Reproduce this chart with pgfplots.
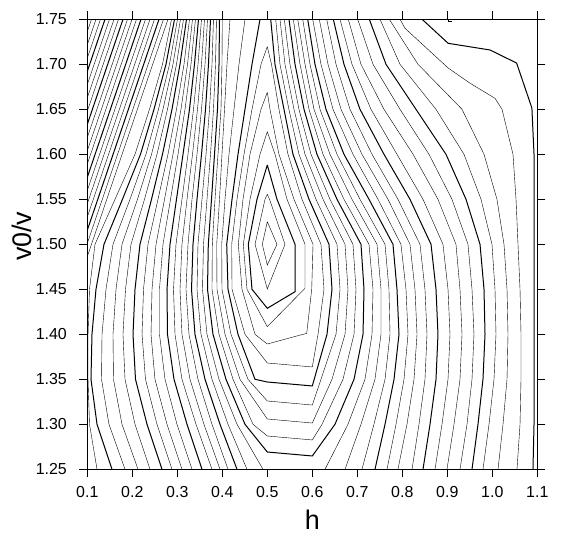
\documentclass[border=0pt]{standalone}
\usepackage{pgfplots}
\pgfplotsset{compat=1.18}
\usepackage{fontspec}
\setmainfont{Liberation Sans}
\begin{document}
\begin{tikzpicture}
\begin{axis}[
  at={(0,0)}, anchor=south west,
  scale only axis, width=450bp, height=450bp,
  xmin=0.1, xmax=1.1, ymin=1.25, ymax=1.75,
  xtick={0.1,0.2,0.3,0.4,0.5,0.6,0.7,0.8,0.9,1.0,1.1},
  ytick={1.25,1.30,1.35,1.40,1.45,1.50,1.55,1.60,1.65,1.70,1.75},
  xticklabels={0.1,0.2,0.3,0.4,0.5,0.6,0.7,0.8,0.9,1.0,1.1},
  yticklabels={1.25,1.30,1.35,1.40,1.45,1.50,1.55,1.60,1.65,1.70,1.75},
  tick align=outside, major tick length=8bp,
  tick style={black, line width=1.2bp},
  axis line style={line width=1.5bp},
  /pgf/number format/assume math mode=true,
  ticklabel style={font=\fontsize{16}{16}\selectfont},
  xticklabel style={yshift=-6bp},
  yticklabel style={xshift=-9bp},
  xlabel={h}, ylabel={v0/v},
  xlabel style={font=\fontsize{27}{27}\selectfont, at={(axis description cs:0.5,0)}, anchor=north, inner sep=0pt, yshift=-41bp},
  ylabel style={font=\fontsize{27}{27}\selectfont, at={(axis description cs:-0.1222,0.5178)}, anchor=south, inner sep=0pt},
  cycle list={{black, solid, line width=1bp, mark=none}},
  clip=true,
]
% closed contours around the minimum
\addplot coordinates {(0.5,1.5251) (0.4889,1.5) (0.5,1.477) (0.5216,1.5) (0.5,1.5251)};
\addplot coordinates {(0.5,1.5556) (0.4949,1.55) (0.4727,1.5) (0.5,1.4503) (0.5393,1.5) (0.5049,1.55) (0.5,1.5556)};
\addplot coordinates {(0.5,1.5881) (0.4771,1.55) (0.4578,1.5) (0.466,1.45) (0.5,1.4289) (0.5616,1.4473) (0.5616,1.5) (0.5216,1.55) (0.5,1.5881)};
\addplot coordinates {(0.5,1.6251) (0.4838,1.6) (0.4616,1.55) (0.4467,1.5) (0.4549,1.45) (0.5,1.4085) (0.5838,1.4511) (0.5838,1.5) (0.5438,1.55) (0.5171,1.6) (0.5,1.6251)};
\addplot coordinates {(0.5,1.6689) (0.486,1.65) (0.4616,1.6) (0.446,1.55) (0.4356,1.5) (0.4438,1.45) (0.4727,1.40) (0.5,1.3892) (0.5876,1.4011) (0.5987,1.45) (0.6016,1.5) (0.5593,1.55) (0.526,1.6) (0.506,1.65) (0.5,1.6689)};
\addplot coordinates {(0.5,1.7196) (0.486,1.70) (0.466,1.65) (0.4482,1.6) (0.4327,1.55) (0.4209,1.5) (0.4216,1.45) (0.4504,1.40) (0.5,1.3681) (0.6,1.3637) (0.6127,1.40) (0.626,1.45) (0.6193,1.5) (0.5771,1.55) (0.546,1.6) (0.526,1.65) (0.5093,1.70) (0.5,1.7196)};
% open U-shaped contours
\addplot coordinates {(0.4838,1.75) (0.466,1.70) (0.4504,1.65) (0.4349,1.60) (0.4216,1.55) (0.4098,1.50) (0.4127,1.45) (0.4349,1.40) (0.4727,1.35) (0.5,1.347) (0.6,1.3426) (0.6327,1.40) (0.6438,1.45) (0.6371,1.50) (0.5927,1.55) (0.5571,1.60) (0.5371,1.65) (0.5171,1.70) (0.5076,1.75)};
\addplot coordinates {(0.4504,1.75) (0.4371,1.70) (0.426,1.65) (0.4149,1.60) (0.406,1.55) (0.3987,1.50) (0.3993,1.45) (0.4193,1.40) (0.4571,1.35) (0.5,1.3259) (0.6,1.3214) (0.6193,1.35) (0.6527,1.40) (0.6616,1.45) (0.6549,1.50) (0.6082,1.55) (0.5704,1.60) (0.548,1.65) (0.5282,1.70) (0.5187,1.75)};
\addplot coordinates {(0.4171,1.75) (0.4104,1.70) (0.4049,1.65) (0.3993,1.60) (0.3938,1.55) (0.3876,1.50) (0.3882,1.45) (0.406,1.40) (0.4393,1.35) (0.5,1.3059) (0.6,1.3014) (0.6438,1.35) (0.6727,1.40) (0.6793,1.45) (0.6727,1.50) (0.6238,1.55) (0.5838,1.60) (0.5593,1.65) (0.5393,1.70) (0.5282,1.75)};
\addplot coordinates {(0.4,1.75) (0.3993,1.70) (0.3971,1.65) (0.3904,1.60) (0.3838,1.55) (0.3778,1.50) (0.3771,1.45) (0.3927,1.40) (0.4238,1.35) (0.4682,1.30) (0.5,1.287) (0.6,1.2826) (0.6216,1.30) (0.6682,1.35) (0.6927,1.40) (0.6971,1.45) (0.6904,1.50) (0.6393,1.55) (0.5971,1.60) (0.5704,1.65) (0.5504,1.70) (0.5378,1.75)};
\addplot coordinates {(0.3938,1.75) (0.3927,1.70) (0.3893,1.65) (0.3827,1.60) (0.376,1.55) (0.3689,1.50) (0.3671,1.45) (0.3793,1.40) (0.4082,1.35) (0.4504,1.30) (0.5,1.2692) (0.6,1.2648) (0.6504,1.30) (0.6927,1.35) (0.7127,1.40) (0.7149,1.45) (0.7082,1.50) (0.6549,1.55) (0.6104,1.60) (0.5816,1.65) (0.5616,1.70) (0.5482,1.75)};
% right branches (top edge to bottom edge)
\addplot coordinates {(0.5578,1.75) (0.5727,1.70) (0.5927,1.65) (0.6238,1.60) (0.6704,1.55) (0.726,1.50) (0.7349,1.45) (0.7327,1.40) (0.7171,1.35) (0.6793,1.30) (0.6282,1.25)};
\addplot coordinates {(0.5676,1.75) (0.5838,1.70) (0.6038,1.65) (0.6393,1.60) (0.6882,1.55) (0.7438,1.50) (0.7527,1.45) (0.7527,1.40) (0.7393,1.35) (0.7082,1.30) (0.6727,1.25)};
\addplot coordinates {(0.5787,1.75) (0.5949,1.70) (0.6171,1.65) (0.6549,1.60) (0.706,1.55) (0.7616,1.50) (0.7704,1.45) (0.7727,1.40) (0.7616,1.35) (0.737,1.30) (0.7104,1.25)};
\addplot coordinates {(0.5898,1.75) (0.606,1.70) (0.6304,1.65) (0.6704,1.60) (0.726,1.55) (0.7793,1.50) (0.7882,1.45) (0.7927,1.40) (0.7816,1.35) (0.7616,1.30) (0.7393,1.25)};
\addplot coordinates {(0.6009,1.75) (0.6193,1.70) (0.646,1.65) (0.6904,1.60) (0.746,1.55) (0.797,1.50) (0.8082,1.45) (0.8127,1.40) (0.8038,1.35) (0.786,1.30) (0.766,1.25)};
\addplot coordinates {(0.6156,1.75) (0.6349,1.70) (0.6638,1.65) (0.7104,1.60) (0.7682,1.55) (0.8171,1.50) (0.8282,1.45) (0.8327,1.40) (0.826,1.35) (0.8104,1.30) (0.7904,1.25)};
\addplot coordinates {(0.632,1.75) (0.6527,1.70) (0.6838,1.65) (0.7327,1.60) (0.7904,1.55) (0.8393,1.50) (0.8504,1.45) (0.8549,1.40) (0.8504,1.35) (0.8371,1.30) (0.8216,1.25)};
\addplot coordinates {(0.6467,1.75) (0.6704,1.70) (0.706,1.65) (0.7593,1.60) (0.8171,1.55) (0.8638,1.50) (0.8749,1.45) (0.8793,1.40) (0.8749,1.35) (0.8616,1.30) (0.846,1.25)};
\addplot coordinates {(0.6616,1.75) (0.6882,1.70) (0.7304,1.65) (0.7882,1.60) (0.846,1.55) (0.8904,1.50) (0.9016,1.45) (0.906,1.40) (0.9016,1.35) (0.8882,1.30) (0.8727,1.25)};
\addplot coordinates {(0.68,1.75) (0.7082,1.70) (0.7593,1.65) (0.824,1.60) (0.8793,1.55) (0.9193,1.50) (0.9282,1.45) (0.9327,1.40) (0.9282,1.35) (0.9149,1.30) (0.8993,1.25)};
\addplot coordinates {(0.7009,1.75) (0.7349,1.70) (0.7949,1.65) (0.8593,1.60) (0.9104,1.55) (0.946,1.50) (0.9549,1.45) (0.9593,1.40) (0.9549,1.35) (0.9438,1.30) (0.9282,1.25)};
\addplot coordinates {(0.7267,1.75) (0.7638,1.70) (0.8304,1.65) (0.8971,1.60) (0.9416,1.55) (0.9727,1.50) (0.9816,1.45) (0.9838,1.40) (0.9793,1.35) (0.9682,1.30) (0.9549,1.25)};
\addplot coordinates {(0.7504,1.75) (0.7949,1.70) (0.8749,1.65) (0.9371,1.60) (0.9749,1.55) (0.9993,1.50) (1.006,1.45) (1.0082,1.40) (1.0038,1.35) (0.9927,1.30) (0.9793,1.25)};
\addplot coordinates {(0.7711,1.75) (0.8349,1.70) (0.9327,1.65) (0.9816,1.60) (1.0104,1.55) (1.026,1.50) (1.0327,1.45) (1.0349,1.40) (1.0327,1.35) (1.0238,1.30) (1.0127,1.25)};
\addplot coordinates {(0.7949,1.75) (0.806,1.74) (0.9016,1.696) (0.9504,1.679) (1.006,1.6622) (1.0216,1.65) (1.046,1.60) (1.0527,1.55) (1.0571,1.50) (1.0616,1.45) (1.0638,1.40) (1.0638,1.35) (1.0616,1.30) (1.0549,1.25)};
\addplot coordinates {(0.844,1.75) (0.902,1.7233) (0.995,1.7159) (1.054,1.7014) (1.088,1.6514) (1.0927,1.60) (1.0927,1.50) (1.0927,1.40) (1.0927,1.30) (1.0904,1.25)};
\addplot coordinates {(0.9016,1.75) (0.9016,1.7478) (0.91,1.7478)};
% left branches (top edge to bottom edge)
\addplot coordinates {(0.3871,1.75) (0.3849,1.70) (0.3804,1.65) (0.3738,1.60) (0.366,1.55) (0.3582,1.50) (0.356,1.45) (0.366,1.40) (0.3927,1.35) (0.4327,1.30) (0.4904,1.25)};
\addplot coordinates {(0.3804,1.75) (0.3771,1.70) (0.3716,1.65) (0.3638,1.60) (0.3549,1.55) (0.346,1.50) (0.3438,1.45) (0.3527,1.40) (0.3771,1.35) (0.4127,1.30) (0.4549,1.25)};
\addplot coordinates {(0.3738,1.75) (0.3693,1.70) (0.3627,1.65) (0.3538,1.60) (0.3438,1.55) (0.3349,1.50) (0.3316,1.45) (0.3393,1.40) (0.3616,1.35) (0.3949,1.30) (0.4327,1.25)};
\addplot coordinates {(0.3671,1.75) (0.3616,1.70) (0.3538,1.65) (0.3438,1.60) (0.3327,1.55) (0.3238,1.50) (0.3193,1.45) (0.326,1.40) (0.346,1.35) (0.3771,1.30) (0.4127,1.25)};
\addplot coordinates {(0.3604,1.75) (0.3538,1.70) (0.3449,1.65) (0.3338,1.60) (0.3216,1.55) (0.3104,1.50) (0.306,1.45) (0.3104,1.40) (0.3282,1.35) (0.3593,1.30) (0.3949,1.25)};
\addplot coordinates {(0.3538,1.75) (0.346,1.70) (0.336,1.65) (0.3238,1.60) (0.3104,1.55) (0.2971,1.50) (0.2916,1.45) (0.2949,1.40) (0.3104,1.35) (0.3416,1.30) (0.3771,1.25)};
\addplot coordinates {(0.3471,1.75) (0.3382,1.70) (0.3271,1.65) (0.3127,1.60) (0.2982,1.55) (0.2838,1.50) (0.2771,1.45) (0.2782,1.40) (0.2927,1.35) (0.3216,1.30) (0.3549,1.25)};
\addplot coordinates {(0.3404,1.75) (0.3304,1.70) (0.3171,1.65) (0.3016,1.60) (0.2849,1.55) (0.2682,1.50) (0.2604,1.45) (0.2604,1.40) (0.2727,1.35) (0.2993,1.30) (0.3327,1.25)};
\addplot coordinates {(0.3338,1.75) (0.3227,1.70) (0.3082,1.65) (0.2904,1.60) (0.2716,1.55) (0.2527,1.50) (0.2438,1.45) (0.2416,1.40) (0.2504,1.35) (0.2771,1.30) (0.3104,1.25)};
\addplot coordinates {(0.3271,1.75) (0.3149,1.70) (0.2982,1.65) (0.2793,1.60) (0.2571,1.55) (0.2349,1.50) (0.2249,1.45) (0.2216,1.40) (0.2293,1.35) (0.2549,1.30) (0.2882,1.25)};
\addplot coordinates {(0.3204,1.75) (0.306,1.70) (0.2882,1.65) (0.2671,1.60) (0.2427,1.55) (0.2171,1.50) (0.206,1.45) (0.2016,1.40) (0.2071,1.35) (0.2327,1.30) (0.266,1.25)};
\addplot coordinates {(0.3138,1.75) (0.2982,1.70) (0.2782,1.65) (0.2549,1.60) (0.2271,1.55) (0.1971,1.50) (0.1849,1.45) (0.1793,1.40) (0.1838,1.35) (0.206,1.30) (0.2393,1.25)};
\addplot coordinates {(0.3071,1.75) (0.2904,1.70) (0.2682,1.65) (0.2427,1.60) (0.2116,1.55) (0.1771,1.50) (0.1638,1.45) (0.1571,1.40) (0.1582,1.35) (0.1771,1.30) (0.2127,1.25)};
\addplot coordinates {(0.3004,1.75) (0.2827,1.70) (0.2582,1.65) (0.2304,1.60) (0.1949,1.55) (0.1571,1.50) (0.1416,1.45) (0.1327,1.40) (0.1316,1.35) (0.1482,1.30) (0.1838,1.25)};
\addplot coordinates {(0.2938,1.75) (0.2749,1.70) (0.2482,1.65) (0.2182,1.60) (0.1782,1.55) (0.1371,1.50) (0.1193,1.45) (0.1104,1.40) (0.1082,1.35) (0.1216,1.30) (0.1549,1.25)};
\addplot coordinates {(0.2871,1.75) (0.2671,1.70) (0.2382,1.65) (0.206,1.60) (0.1616,1.55) (0.1171,1.50) (0.1049,1.45) (0.1016,1.40) (0.1016,1.35) (0.1049,1.30) (0.1216,1.25)};
% lines reaching the left edge
\addplot coordinates {(0.2793,1.75) (0.1,1.4863)};
\addplot coordinates {(0.2693,1.75) (0.1,1.5010)};
\addplot coordinates {(0.2593,1.75) (0.1,1.5157)};
\addplot coordinates {(0.2493,1.75) (0.1,1.5304)};
\addplot coordinates {(0.2393,1.75) (0.1,1.5451)};
\addplot coordinates {(0.2293,1.75) (0.1,1.5598)};
\addplot coordinates {(0.2193,1.75) (0.1,1.5745)};
\addplot coordinates {(0.2093,1.75) (0.1,1.5892)};
\addplot coordinates {(0.1993,1.75) (0.1,1.6039)};
\addplot coordinates {(0.1893,1.75) (0.1,1.6186)};
\addplot coordinates {(0.1793,1.75) (0.1,1.6333)};
\addplot coordinates {(0.1693,1.75) (0.1,1.6480)};
\addplot coordinates {(0.1593,1.75) (0.1,1.6627)};
\addplot coordinates {(0.1493,1.75) (0.1,1.6775)};
\addplot coordinates {(0.1393,1.75) (0.1,1.6922)};
\addplot coordinates {(0.1293,1.75) (0.1,1.7069)};
\addplot coordinates {(0.1193,1.75) (0.1,1.7216)};
\addplot coordinates {(0.1093,1.75) (0.1,1.7363)};
\end{axis}
\pgfresetboundingbox
\path[use as bounding box] (-87.3bp,-65.7bp) rectangle (476.7bp,469.3bp);
\end{tikzpicture}
\end{document}
